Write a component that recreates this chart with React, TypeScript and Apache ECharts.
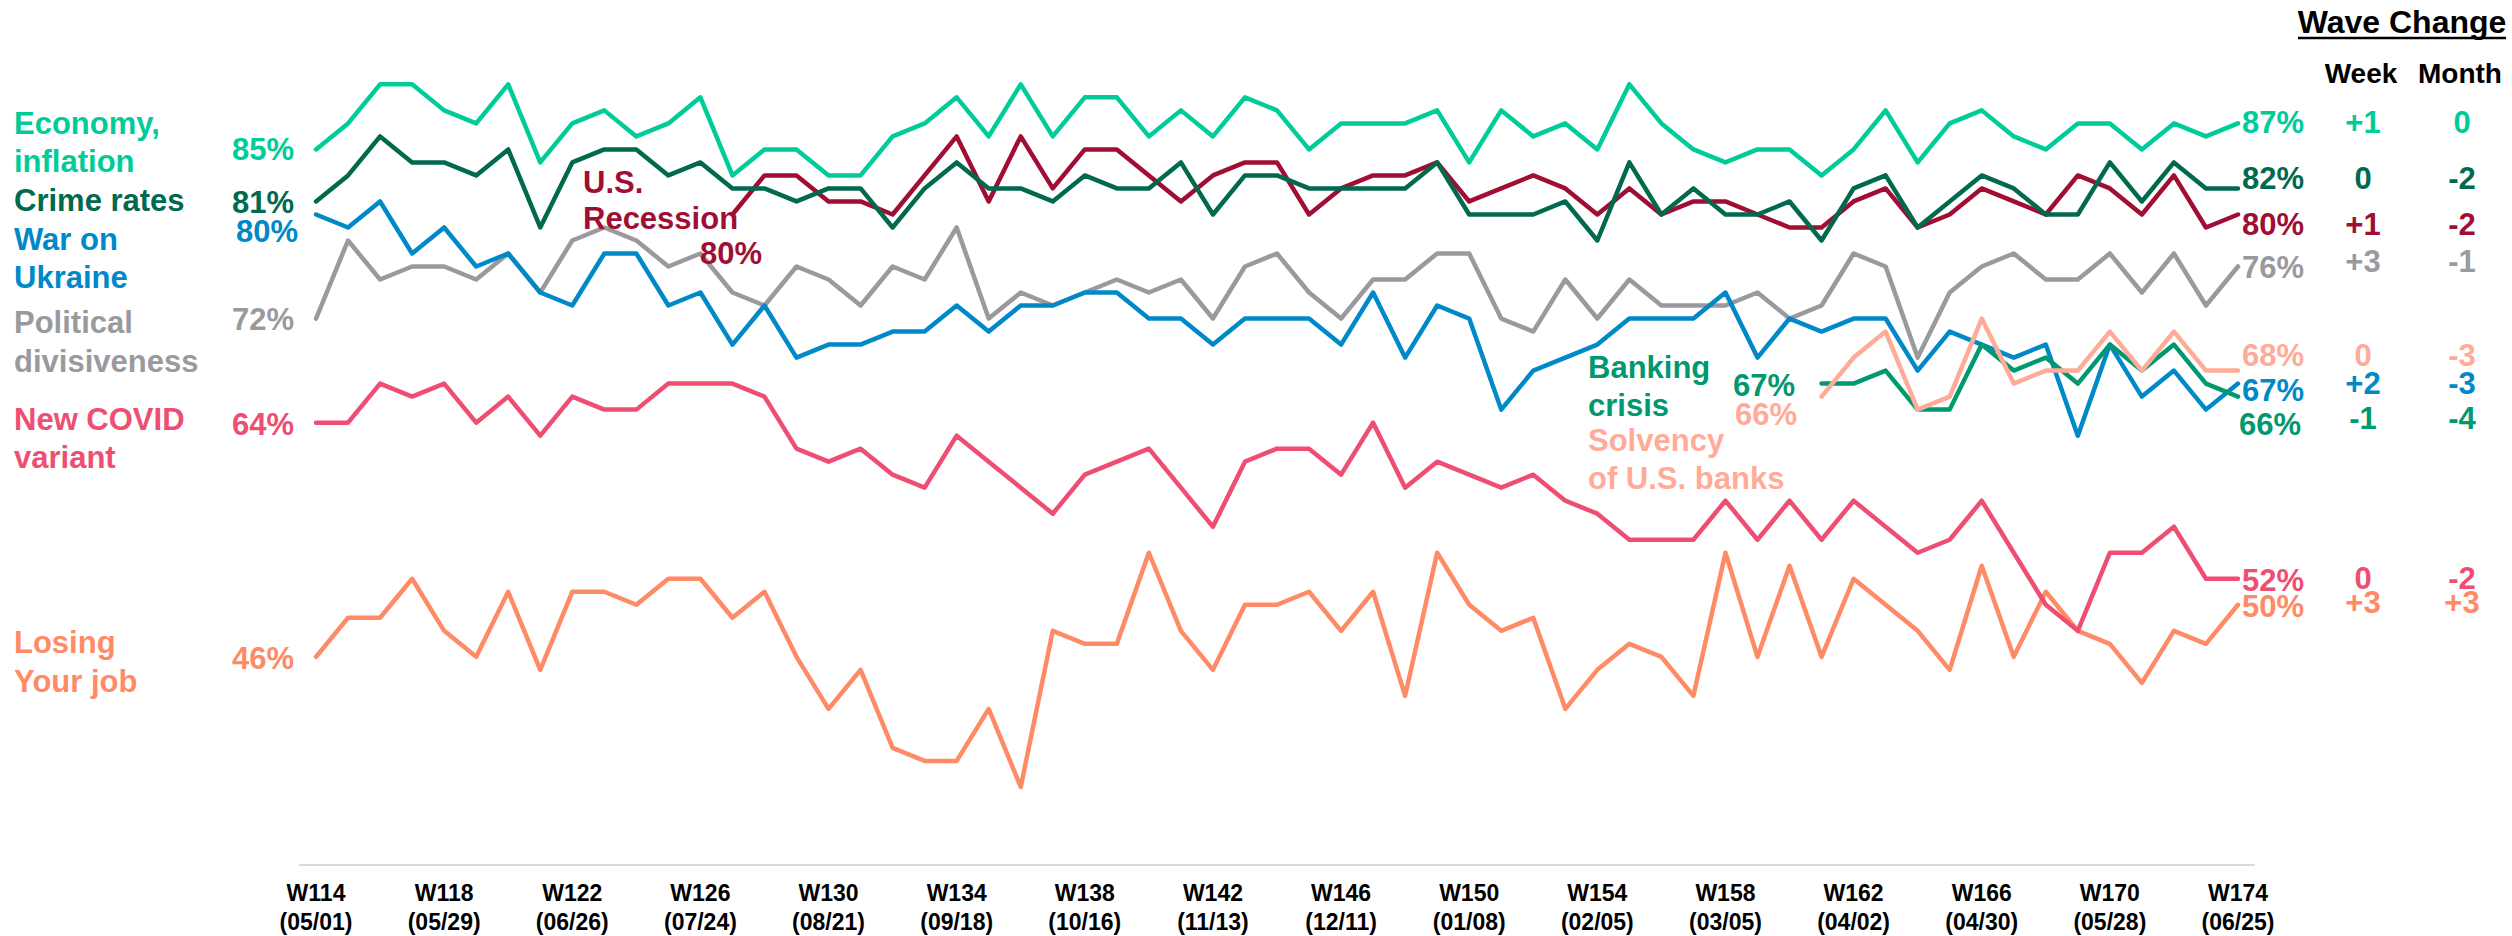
import React, { useEffect, useRef } from "react";
import * as echarts from "echarts";

// ---------- DATA ----------
const weeks: string[] = Array.from({ length: 61 }, (_, i) => `W${114 + i}`);

const tickDates: Record<string, string> = {
  W114: "05/01", W118: "05/29", W122: "06/26", W126: "07/24", W130: "08/21",
  W134: "09/18", W138: "10/16", W142: "11/13", W146: "12/11", W150: "01/08",
  W154: "02/05", W158: "03/05", W162: "04/02", W166: "04/30", W170: "05/28",
  W174: "06/25",
};

const economy = [
  85, 87, 90, 90, 88, 87, 90, 84, 87, 88, 86, 87, 89, 83, 85, 85, 83, 83, 86, 87,
  89, 86, 90, 86, 89, 89, 86, 88, 86, 89, 88, 85, 87, 87, 87, 88, 84, 88, 86, 87,
  85, 90, 87, 85, 84, 85, 85, 83, 85, 88, 84, 87, 88, 86, 85, 87, 87, 85, 87, 86, 87,
];
const crime = [
  81, 83, 86, 84, 84, 83, 85, 79, 84, 85, 85, 83, 84, 82, 82, 81, 82, 82, 79, 82,
  84, 82, 82, 81, 83, 82, 82, 84, 80, 83, 83, 82, 82, 82, 82, 84, 80, 80, 80, 81,
  78, 84, 80, 82, 80, 80, 81, 78, 82, 83, 79, 81, 83, 82, 80, 80, 84, 81, 84, 82, 82,
];
const ukraine = [
  80, 79, 81, 77, 79, 76, 77, 74, 73, 77, 77, 73, 74, 70, 73, 69, 70, 70, 71, 71,
  73, 71, 73, 73, 74, 74, 72, 72, 70, 72, 72, 72, 70, 74, 69, 73, 72, 65, 68, 69,
  70, 72, 72, 72, 74, 69, 72, 71, 72, 72, 68, 71, 70, 69, 70, 63, 70, 66, 68, 65, 67,
];
const political = [
  72, 78, 75, 76, 76, 75, 77, 74, 78, 79, 78, 76, 77, 74, 73, 76, 75, 73, 76, 75,
  79, 72, 74, 73, 74, 75, 74, 75, 72, 76, 77, 74, 72, 75, 75, 77, 77, 72, 71, 75,
  72, 75, 73, 73, 73, 74, 72, 73, 77, 76, 69, 74, 76, 77, 75, 75, 77, 74, 77, 73, 76,
];
const covid = [
  64, 64, 67, 66, 67, 64, 66, 63, 66, 65, 65, 67, 67, 67, 66, 62, 61, 62, 60, 59,
  63, 61, 59, 57, 60, 61, 62, 59, 56, 61, 62, 62, 60, 64, 59, 61, 60, 59, 60, 58,
  57, 55, 55, 55, 58, 55, 58, 55, 58, 56, 54, 55, 58, 54, 50, 48, 54, 54, 56, 52, 52,
];
const losingJob = [
  46, 49, 49, 52, 48, 46, 51, 45, 51, 51, 50, 52, 52, 49, 51, 46, 42, 45, 39, 38,
  38, 42, 36, 48, 47, 47, 54, 48, 45, 50, 50, 51, 48, 51, 43, 54, 50, 48, 49, 42,
  45, 47, 46, 43, 54, 46, 53, 46, 52, 50, 48, 45, 53, 46, 51, 48, 47, 44, 48, 47, 50,
];
const N = null;
const recession = [
  N, N, N, N, N, N, N, N, N, N, N, N, N, 80, 83, 83, 81, 81, 80, 83,
  86, 81, 86, 82, 85, 85, 83, 81, 83, 84, 84, 80, 82, 83, 83, 84, 81, 82, 83, 82,
  80, 82, 80, 81, 81, 80, 79, 79, 81, 82, 79, 80, 82, 81, 80, 83, 82, 80, 83, 79, 80,
];
const bankingCrisis = [
  ...Array(47).fill(null),
  67, 67, 68, 65, 65, 70, 68, 69, 67, 70, 68, 70, 67, 66,
];
const bankSolvency = [
  ...Array(47).fill(null),
  66, 69, 71, 65, 66, 72, 67, 68, 68, 71, 68, 71, 68, 68,
];

// ---------- STYLE ----------
const C = {
  economy: "#00CC99",
  crime: "#00694E",
  ukraine: "#0089C8",
  political: "#9A9A9E",
  covid: "#EF4E73",
  losing: "#FF8A66",
  recession: "#A10E34",
  banking: "#00996F",
  solvency: "#FFAB98",
};
const FF = '"Liberation Sans", Arial, Helvetica, sans-serif';

function txt(text: string, x: number, y: number, fill: string, size = 31, align = "left") {
  return {
    type: "text",
    x,
    y,
    z: 100,
    style: {
      text,
      fill,
      font: `bold ${size}px ${FF}`,
      textAlign: align,
      align,
      textVerticalAlign: "middle",
      verticalAlign: "middle",
    },
  };
}

const lastOf = (a: (number | null)[]) => a[a.length - 1] as number;
const fmtChg = (d: number) => (d > 0 ? `+${d}` : `${d}`);
const weekChg = (a: (number | null)[]) => fmtChg(lastOf(a) - (a[a.length - 2] as number));
const monthChg = (a: (number | null)[]) => fmtChg(lastOf(a) - (a[a.length - 5] as number));

export default function App() {
  const ref = useRef<HTMLDivElement>(null);

  useEffect(() => {
    document.body.style.margin = "0";
    const chart = echarts.init(ref.current!, null, { renderer: "svg" });

    const line = (name: string, data: (number | null)[], color: string, z = 2) => ({
      name,
      type: "line",
      data,
      z,
      showSymbol: false,
      symbol: "none",
      connectNulls: false,
      lineStyle: { color, width: 4.5, join: "round", cap: "round" },
      itemStyle: { color },
      emphasis: { disabled: true },
    });

    const rows: [string, (number | null)[], string, number, number, number][] = [
      // label, data, color, pctY, changeY, pctX
      ["econ", economy, C.economy, 122, 122, 2242],
      ["crime", crime, C.crime, 178, 178, 2242],
      ["rec", recession, C.recession, 224, 224, 2242],
      ["pol", political, C.political, 267, 261, 2242],
      ["solv", bankSolvency, C.solvency, 355, 355, 2242],
      ["ukr", ukraine, C.ukraine, 390, 383, 2242],
      ["bank", bankingCrisis, C.banking, 424, 418, 2239],
      ["covid", covid, C.covid, 580, 578, 2242],
      ["job", losingJob, C.losing, 606, 602, 2242],
    ];

    const graphics: any[] = [
      // left labels
      txt("Economy,", 14, 123, C.economy),
      txt("inflation", 14, 161, C.economy),
      txt("Crime rates", 14, 200, C.crime),
      txt("War on", 14, 239, C.ukraine),
      txt("Ukraine", 14, 277, C.ukraine),
      txt("Political", 14, 322, C.political),
      txt("divisiveness", 14, 361, C.political),
      txt("New COVID", 14, 419, C.covid),
      txt("variant", 14, 457, C.covid),
      txt("Losing", 14, 642, C.losing),
      txt("Your job", 14, 681, C.losing),
      // left start values
      txt(`${economy[0]}%`, 294, 149, C.economy, 31, "right"),
      txt(`${crime[0]}%`, 294, 202, C.crime, 31, "right"),
      txt(`${ukraine[0]}%`, 298, 231, C.ukraine, 31, "right"),
      txt(`${political[0]}%`, 294, 319, C.political, 31, "right"),
      txt(`${covid[0]}%`, 294, 424, C.covid, 31, "right"),
      txt(`${losingJob[0]}%`, 294, 658, C.losing, 31, "right"),
      // in-chart labels
      txt("U.S.", 583, 182, C.recession),
      txt("Recession", 583, 218, C.recession),
      txt(`${recession[13]}%`, 700, 253, C.recession),
      txt("Banking", 1588, 367, C.banking),
      txt("crisis", 1588, 405, C.banking),
      txt("Solvency", 1588, 440, C.solvency),
      txt("of U.S. banks", 1588, 478, C.solvency),
      txt(`${bankingCrisis[47]}%`, 1733, 385, C.banking),
      txt(`${bankSolvency[47]}%`, 1735, 414, C.solvency),
      // header
      txt("Wave Change", 2402, 22, "#000", 32, "center"),
      {
        type: "line",
        z: 100,
        shape: { x1: 2298, y1: 38, x2: 2506, y2: 38 },
        style: { stroke: "#000", lineWidth: 2.5 },
      },
      txt("Week", 2361, 73, "#000", 28, "center"),
      txt("Month", 2460, 73, "#000", 28, "center"),
    ];

    rows.forEach(([, data, color, pctY, chgY, pctX]) => {
      graphics.push(txt(`${lastOf(data)}%`, pctX, pctY, color));
      graphics.push(txt(weekChg(data), 2363, chgY, color, 31, "center"));
      graphics.push(txt(monthChg(data), 2462, chgY, color, 31, "center"));
    });

    chart.setOption({
      animation: false,
      backgroundColor: "#ffffff",
      grid: {
        left: 300,
        top: 19.3,
        width: 1954,
        height: 845.7,
        containLabel: false,
        outerBoundsMode: "none",
      },
      xAxis: {
        type: "category",
        data: weeks,
        boundaryGap: true,
        axisLine: { show: true, lineStyle: { color: "#D9D9D9", width: 2 } },
        axisTick: { show: false },
        splitLine: { show: false },
        axisLabel: {
          interval: 3,
          margin: 13,
          color: "#000",
          fontWeight: "bold",
          fontSize: 23,
          lineHeight: 29,
          fontFamily: FF,
          formatter: (v: string) => `${v}\n(${tickDates[v] ?? ""})`,
        },
      },
      yAxis: {
        type: "value",
        min: 30,
        max: 95,
        show: false,
        splitLine: { show: false },
      },
      series: [
        line("Losing Your job", losingJob, C.losing, 2),
        line("New COVID variant", covid, C.covid, 3),
        line("Political divisiveness", political, C.political, 4),
        line("War on Ukraine", ukraine, C.ukraine, 5),
        line("Banking crisis", bankingCrisis, C.banking, 6),
        line("Solvency of U.S. banks", bankSolvency, C.solvency, 7),
        line("U.S. Recession", recession, C.recession, 8),
        line("Crime rates", crime, C.crime, 9),
        line("Economy, inflation", economy, C.economy, 10),
      ],
      graphic: graphics,
    });

    return () => chart.dispose();
  }, []);

  return <div ref={ref} style={{ width: 2512, height: 936 }} />;
}
